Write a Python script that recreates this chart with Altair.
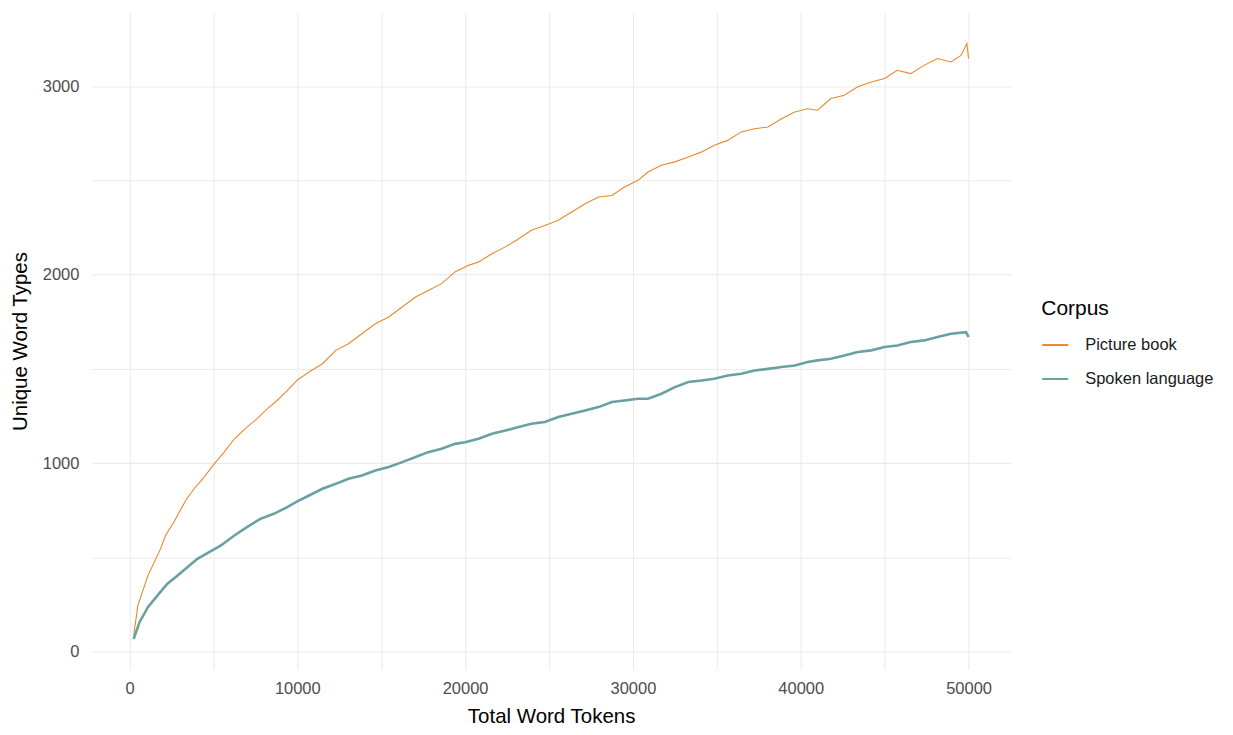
import altair as alt
import pandas as pd

# Picture book corpus
pb_tokens = [250, 500, 1100, 1850, 2150, 2650, 3350, 3850, 4450, 5050, 5650, 6250, 7000, 7600,
             8200, 8800, 9400, 10000, 10700, 11500, 12300, 13050, 13850, 14650, 15450, 16250,
             17050, 17800, 18600, 19400, 20200, 20800, 21600, 22400, 23200, 23950, 24750, 25550,
             26350, 27150, 27950, 28750, 29500, 30300, 30900, 31700, 32500, 33300, 34100, 34850,
             35650, 36450, 37250, 38050, 38850, 39650, 40400, 41000, 41800, 42600, 43400, 44200,
             45000, 45750, 46550, 47350, 48150, 48950, 49550, 49900, 50000]
pb_types = [85, 244, 403, 545, 616, 687, 802, 864, 926, 996, 1058, 1129, 1191, 1235,
            1288, 1332, 1385, 1440, 1483, 1527, 1598, 1633, 1686, 1739, 1775, 1828,
            1881, 1916, 1952, 2014, 2049, 2067, 2111, 2147, 2190, 2235, 2261, 2288,
            2332, 2376, 2412, 2420, 2465, 2500, 2544, 2580, 2598, 2624, 2651, 2686,
            2712, 2757, 2774, 2783, 2827, 2863, 2880, 2872, 2934, 2951, 2996, 3022,
            3040, 3084, 3066, 3110, 3146, 3128, 3163, 3226, 3146]

# Spoken language corpus
sp_tokens = [250, 600, 1100, 1750, 2250, 2850, 3450, 4050, 4750, 5450, 6250, 7000, 7800, 8600,
             9400, 10000, 10700, 11500, 12300, 13050, 13850, 14650, 15450, 16250, 17050, 17800,
             18600, 19400, 20000, 20800, 21600, 22400, 23200, 23950, 24750, 25550, 26350, 27150,
             27950, 28750, 29500, 30300, 30900, 31700, 32500, 33300, 34100, 34850, 35650, 36450,
             37250, 38050, 38850, 39650, 40400, 41000, 41800, 42600, 43400, 44200, 45000, 45750,
             46550, 47350, 48150, 48950, 49850, 50000]
sp_types = [67, 156, 236, 306, 359, 403, 448, 492, 528, 563, 616, 660, 704, 731,
            766, 797, 828, 864, 890, 917, 934, 961, 979, 1005, 1032, 1058,
            1076, 1102, 1111, 1129, 1156, 1173, 1191, 1209, 1218, 1244, 1262, 1279,
            1297, 1324, 1332, 1341, 1341, 1368, 1403, 1430, 1438, 1447, 1465, 1474,
            1491, 1500, 1510, 1518, 1536, 1545, 1554, 1571, 1589, 1598, 1616, 1624,
            1642, 1651, 1669, 1686, 1695, 1669]

corpora = ["Picture book", "Spoken language"]
colors = ["#E8892B", "#69A1A3"]
x_ticks = list(range(0, 50001, 5000))
y_ticks = list(range(0, 3001, 500))

df = pd.concat([
    pd.DataFrame({"Corpus": corpora[0], "tokens": pb_tokens, "types": pb_types}),
    pd.DataFrame({"Corpus": corpora[1], "tokens": sp_tokens, "types": sp_types}),
])

FONT = "Liberation Sans"

base = alt.Chart(df).encode(
    x=alt.X("tokens:Q", title="Total Word Tokens",
            scale=alt.Scale(domain=[-2240, 52490], nice=False, zero=False),
            axis=alt.Axis(values=x_ticks, format="d",
                          labelExpr="datum.value % 10000 == 0 ? datum.label : ''",
                          labelPadding=11, titlePadding=10)),
    y=alt.Y("types:Q", title="Unique Word Types",
            scale=alt.Scale(domain=[-95, 3390], nice=False, zero=False),
            axis=alt.Axis(values=y_ticks, format="d",
                          labelExpr="datum.value % 1000 == 0 ? datum.label : ''",
                          labelPadding=13, titlePadding=12)),
    color=alt.Color("Corpus:N", scale=alt.Scale(domain=corpora, range=colors),
                    legend=alt.Legend(orient="none", legendX=951, legendY=286,
                                      symbolType="stroke", symbolStrokeWidth=2,
                                      symbolSize=676, titleFontSize=21,
                                      titleFontWeight="normal", titleColor="#000000",
                                      labelFontSize=16.5, labelColor="#1a1a1a",
                                      rowPadding=11, titlePadding=12, labelOffset=16,
                                      titleFont=FONT, labelFont=FONT)),
    order=alt.Order("tokens:Q"),
)

pb_line = base.transform_filter(alt.datum.Corpus == corpora[0]).mark_line(strokeWidth=1.1)
sp_line = base.transform_filter(alt.datum.Corpus == corpora[1]).mark_line(strokeWidth=2.6)

chart = alt.layer(pb_line, sp_line).properties(
    width=920, height=658,
    autosize=alt.AutoSizeParams(type="none"),
    padding={"left": 84, "top": 4, "right": 215, "bottom": 57},
).configure_view(stroke=None).configure_axis(
    domain=False, ticks=False, grid=True, gridColor="#EBEBEB", gridWidth=1.1,
    labelFont=FONT, labelFontSize=16.5, labelColor="#4D4D4D",
    titleFont=FONT, titleFontSize=20.5, titleFontWeight="normal", titleColor="#000000",
)

chart.save("out.html", embed_options={"renderer": "svg", "actions": False})
